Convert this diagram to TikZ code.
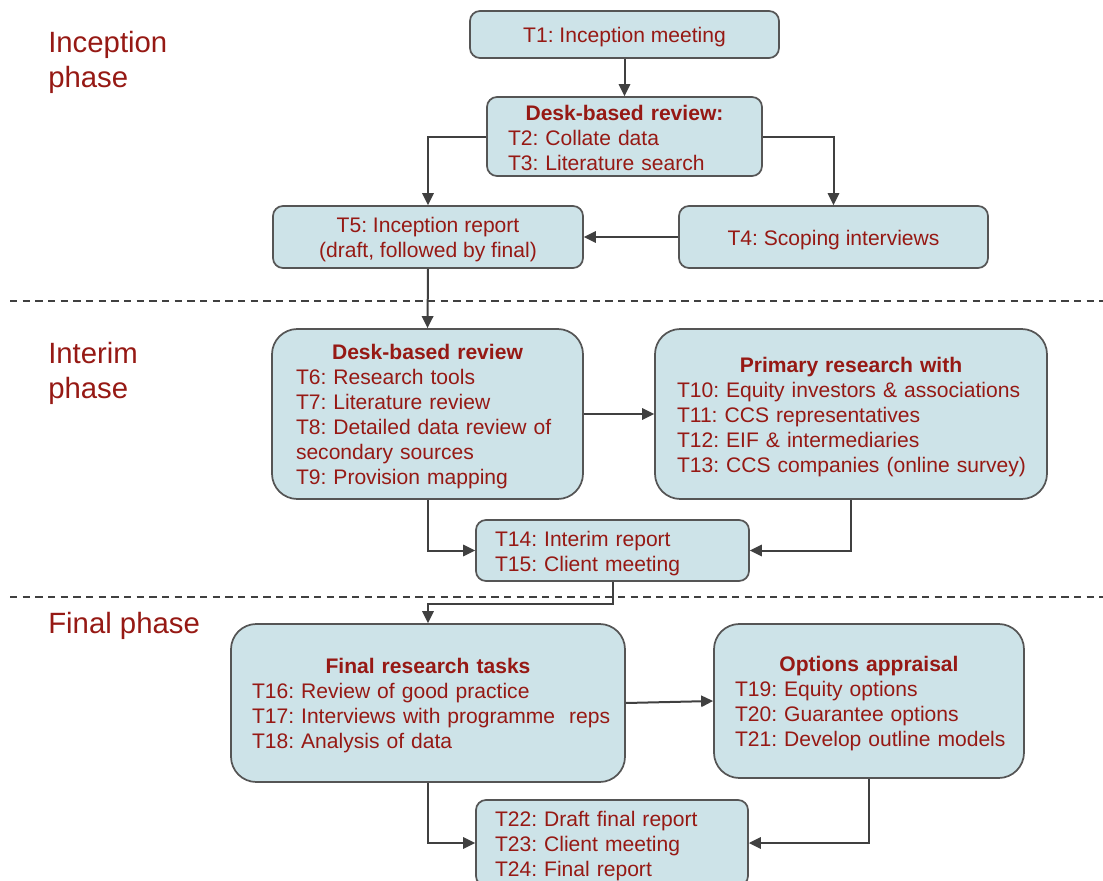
\documentclass[tikz,border=0pt]{standalone}
\usepackage{fontspec}
\setmainfont{Liberation Sans}
\usetikzlibrary{arrows.meta}
\definecolor{phasered}{RGB}{150,25,20}
\definecolor{boxfill}{RGB}{205,227,232}
\definecolor{boxline}{RGB}{85,85,85}
\definecolor{linkgray}{RGB}{64,64,64}
\frenchspacing
% line strut matching the ascent/descent of the sans face
\newcommand\ls{\rule[-0.14em]{0pt}{1.117em}}
% centred bold heading line inside a left-aligned box
\newcommand\ttl[1]{\makebox[\linewidth][c]{\bfseries #1}}
\begin{document}
\begin{tikzpicture}[x=0.75pt,y=-0.75pt,
  task/.style={draw=boxline, fill=boxfill, line width=1.3pt, rounded corners=7.5pt,
    inner sep=0pt, text=phasered, font=\fontsize{15.8}{18.75}\selectfont},
  bigtask/.style={task, rounded corners=19pt},
  link/.style={draw=linkgray, line width=1.5pt, -{Triangle[length=9pt,width=8.5pt]}},
  divider/.style={draw=linkgray, line width=1.3pt, dash pattern=on 5.5pt off 4pt},
  phase/.style={anchor=base west, inner sep=0pt, text=phasered, font=\fontsize{22}{26}\selectfont}]

\useasboundingbox (0,0) rectangle (1103,881);
\clip (0,0) rectangle (1103,881);

% phase labels
\node[phase] (inc1) at (48,53) {Inception};
\node[phase] (inc2) at (48,88) {phase};
\node[phase] (int1) at (48,363) {Interim};
\node[phase] (int2) at (48,398) {phase};
\node[phase] (fin) at (48,633) {Final phase};

% phase separators
\draw[divider] (10,301) -- (1103,301);
\draw[divider] (10,597) -- (1103,597);

% inception phase
\node[task, minimum width=231.75pt, minimum height=35.25pt] (t1) at (624.5,34.5)
  {\ls T1: Inception meeting};
\node[task, minimum width=206.25pt, minimum height=59.25pt, text width=174.75pt, align=left]
  (desk1) at (624.5,136.5)
  {\ttl{\ls Desk-based review:}\\ T2: Collate data\\ \ls T3: Literature search};
\node[task, minimum width=232.5pt, minimum height=46.5pt, align=center] (t5) at (428,237)
  {\ls T5: Inception report\\ \ls (draft, followed by final)};
\node[task, minimum width=231.75pt, minimum height=46.5pt] (t4) at (833.5,237)
  {\ls T4: Scoping interviews};

% interim phase
\node[bigtask, minimum width=233.25pt, minimum height=127.5pt, text width=197.25pt, align=left]
  (desk2) at (427.5,414)
  {\ttl{\ls Desk-based review}\\ T6: Research tools\\ T7: Literature review\\
   T8: Detailed data review of\\ secondary sources\\ \ls T9: Provision mapping};
\node[bigtask, minimum width=294pt, minimum height=127.5pt, text width=261pt, align=left]
  (prim) at (851,414)
  {\ttl{\ls Primary research with}\\ \mbox{T10: Equity investors \& associations}\\
   T11: CCS representatives\\ T12: EIF \& intermediaries\\
   \mbox{\ls T13: CCS companies (online survey)}};
\node[task, minimum width=204.75pt, minimum height=45.75pt, text width=176.25pt, align=left]
  (t14) at (612.5,550.5)
  {\ls T14: Interim report\\ \ls T15: Client meeting};

% final phase
\node[bigtask, minimum width=295.5pt, minimum height=118.5pt, text width=264pt, align=left]
  (fin1) at (428,703)
  {\ttl{\ls Final research tasks}\\ T16: Review of good practice\\
   \mbox{T17: Interviews with programme\ \ reps}\\ \ls T18: Analysis of data};
\node[bigtask, minimum width=232.5pt, minimum height=115.5pt, text width=201pt, align=left]
  (opt) at (869,701)
  {\ttl{\ls Options appraisal}\\ T19: Equity options\\ T20: Guarantee options\\
   \mbox{\ls T21: Develop outline models}};
\node[task, minimum width=204pt, minimum height=64.5pt, text width=175.5pt, align=left]
  (t22) at (612,843)
  {\ls T22: Draft final report\\ T23: Client meeting\\ \ls T24: Final report};

% connectors
\draw[link] (t1.south) -- (desk1.north);
\draw[link] (desk1.west) -| (t5.north);
\draw[link] (desk1.east) -| (t4.north);
\draw[link] (t4.west) -- (t5.east);
\draw[link] (t5.south) -- (desk2.north);
\draw[link] (desk2.east) -- (prim.west);
\draw[link] (desk2.south) |- (t14.west);
\draw[link] (prim.south) |- (t14.east);
\draw[link] (t14.south) -- ++(0,22) -| (fin1.north);
\draw[link] (fin1.east) -- (opt.west);
\draw[link] (fin1.south) |- (t22.west);
\draw[link] (opt.south) |- (t22.east);
\end{tikzpicture}
\end{document}
